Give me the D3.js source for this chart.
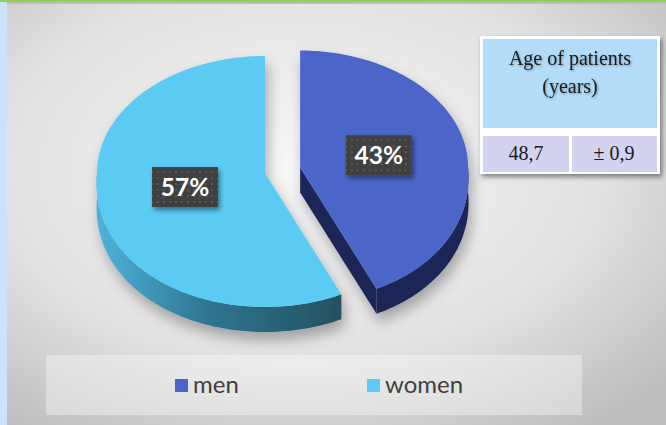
<!DOCTYPE html>
<html>
<head>
<meta charset="utf-8">
<script src="https://cdn.jsdelivr.net/npm/d3@7"></script>
<style>
  html, body { margin: 0; padding: 0; background: #fff; }
  svg { display: block; }
</style>
</head>
<body>
<svg id="chart" width="666" height="425"></svg>
<script>
// chart values
const categories = ['men', 'women']
const shares = [43, 57]
const sliceLabels = ['43%', '57%']
const tableTitle = ['Age of patients', '(years)']
const tableValues = ['48,7', '± 0,9']

const topColors = { men: '#4b66c8', women: '#5bcbf4' }
const sideColors = { men: '#1f2856', women: 'url(#womenSide)' }

const W = 666
const H = 425
const svg = d3.select('#chart')
const defs = svg.append('defs')

// background
const bg = defs.append('radialGradient').attr('id', 'bg')
  .attr('cx', '45%').attr('cy', '40%').attr('r', '75%')
bg.append('stop').attr('offset', '0%').attr('stop-color', '#f8f8f8')
bg.append('stop').attr('offset', '60%').attr('stop-color', '#e2e2e2')
bg.append('stop').attr('offset', '100%').attr('stop-color', '#bdbdbd')

const side = defs.append('linearGradient').attr('id', 'womenSide')
  .attr('gradientUnits', 'userSpaceOnUse')
  .attr('x1', 97).attr('x2', 345).attr('y1', 0).attr('y2', 0)
side.append('stop').attr('offset', '0%').attr('stop-color', '#4db3da')
side.append('stop').attr('offset', '45%').attr('stop-color', '#2f7590')
side.append('stop').attr('offset', '100%').attr('stop-color', '#23505f')

const shadow = defs.append('filter').attr('id', 'pieShadow')
  .attr('x', '-20%').attr('y', '-20%').attr('width', '140%').attr('height', '150%')
shadow.append('feDropShadow').attr('dx', 3).attr('dy', 8)
  .attr('stdDeviation', 7).attr('flood-color', '#000').attr('flood-opacity', 0.3)

const boxShadow = defs.append('filter').attr('id', 'boxShadow')
  .attr('x', '-30%').attr('y', '-30%').attr('width', '160%').attr('height', '170%')
boxShadow.append('feDropShadow').attr('dx', 2).attr('dy', 3)
  .attr('stdDeviation', 2.5).attr('flood-color', '#000').attr('flood-opacity', 0.45)

const textShadow = defs.append('filter').attr('id', 'textShadow')
textShadow.append('feDropShadow').attr('dx', 1).attr('dy', 1)
  .attr('stdDeviation', 0.8).attr('flood-color', '#000').attr('flood-opacity', 0.35)

const dots = defs.append('pattern').attr('id', 'dots')
  .attr('patternUnits', 'userSpaceOnUse').attr('width', 6).attr('height', 6)
dots.append('rect').attr('width', 6).attr('height', 6).attr('fill', '#404040')
dots.append('rect').attr('x', 2).attr('y', 2).attr('width', 2).attr('height', 2).attr('fill', '#575757')

svg.append('rect').attr('width', W).attr('height', H).attr('fill', 'url(#bg)')
svg.append('rect').attr('width', W).attr('height', 4).attr('fill', '#bdbdbd')
svg.append('rect').attr('width', W).attr('height', 2).attr('fill', '#92d050')
svg.append('rect').attr('y', 2).attr('width', 7).attr('height', H - 2).attr('fill', '#c8e3fa')

// legend panel
svg.append('rect').attr('x', 46).attr('y', 355).attr('width', 536).attr('height', 60)
  .attr('fill', '#ffffff').attr('fill-opacity', 0.35)

// pie geometry
const center = [265, 173]
const rx = 168
const ryTop = 117
const ryBot = 134
const depth = 25
const explode = { men: 36, women: 0 }

const point = (c, a, k = 1, dz = 0) => {
  const cos = Math.cos(a)
  const widen = 1 + 0.075 * Math.max(0, -cos)
  return [
    c[0] + k * rx * widen * Math.sin(a),
    c[1] - k * (cos > 0 ? ryTop : ryBot) * cos + dz
  ]
}

const arcPoints = (c, a0, a1, dz = 0) => {
  const n = Math.max(2, Math.ceil(Math.abs(a1 - a0) / 0.02))
  return d3.range(n + 1).map(i => point(c, a0 + (a1 - a0) * i / n, 1, dz))
}

const line = d3.line()

const slices = d3.pie().sort(null).value(d => d.value)(
  categories.map((name, i) => ({ name, value: shares[i], label: sliceLabels[i] }))
)

slices.forEach(s => {
  const mid = (s.startAngle + s.endAngle) / 2
  const off = explode[s.data.name]
  s.center = [
    center[0] + off * Math.sin(mid),
    center[1] - off * Math.cos(mid) * ryTop / rx
  ]
})

const pie = svg.append('g').attr('filter', 'url(#pieShadow)')

// draw women first, men (exploded) on top
slices.slice().reverse().forEach(s => {
  const g = pie.append('g').attr('class', s.data.name)
  const c = s.center
  const a0 = s.startAngle
  const a1 = s.endAngle

  // outer wall, front half only
  const f0 = Math.max(a0, Math.PI / 2)
  const f1 = Math.min(a1, Math.PI * 1.5)
  if (f1 > f0) {
    const pts = arcPoints(c, f0, f1).concat(arcPoints(c, f1, f0, depth))
    g.append('path').attr('d', line(pts) + 'Z').attr('fill', sideColors[s.data.name])
  }

  // radial face at end angle
  if (Math.sin(a1) > 0.001) {
    const p = point(c, a1)
    const pts = [c, p, [p[0], p[1] + depth], [c[0], c[1] + depth]]
    g.append('path').attr('d', line(pts) + 'Z').attr('fill', sideColors[s.data.name])
  }
  // radial face at start angle
  if (Math.sin(a0) < -0.001) {
    const p = point(c, a0)
    const pts = [c, p, [p[0], p[1] + depth], [c[0], c[1] + depth]]
    g.append('path').attr('d', line(pts) + 'Z').attr('fill', sideColors[s.data.name])
  }

  // top face
  const top = [c].concat(arcPoints(c, a0, a1))
  g.append('path').attr('d', line(top) + 'Z').attr('fill', topColors[s.data.name])
})

// data labels
const labelW = 66
const labelH = 40
slices.forEach(s => {
  const mid = (s.startAngle + s.endAngle) / 2
  const [x, y] = point(s.center, mid, 0.48)
  const g = svg.append('g').attr('transform', `translate(${x},${y})`)
  g.append('rect')
    .attr('x', -labelW / 2).attr('y', -labelH / 2)
    .attr('width', labelW).attr('height', labelH)
    .attr('fill', 'url(#dots)')
    .attr('filter', 'url(#boxShadow)')
  g.append('text')
    .attr('text-anchor', 'middle')
    .attr('y', 8.5)
    .attr('fill', '#ffffff')
    .attr('font-family', 'Lato, "Open Sans", sans-serif')
    .attr('font-weight', 700)
    .attr('font-size', 24.5)
    .text(s.data.label)
})

// legend
const legendX = d3.scaleOrdinal().domain(categories).range([175, 367])
const legend = svg.append('g')
categories.forEach(name => {
  legend.append('rect')
    .attr('x', legendX(name)).attr('y', 379)
    .attr('width', 13).attr('height', 13)
    .attr('fill', topColors[name])
  legend.append('text')
    .attr('x', legendX(name) + 18).attr('y', 393)
    .attr('fill', '#404040')
    .attr('font-family', 'Lato, "Open Sans", sans-serif')
    .attr('font-size', 24)
    .text(name)
})

// table
const table = svg.append('g')
table.append('rect').attr('x', 480).attr('y', 36).attr('width', 180).attr('height', 138)
  .attr('fill', '#ffffff').attr('filter', 'url(#boxShadow)')
table.append('rect').attr('x', 483).attr('y', 39).attr('width', 174).attr('height', 89)
  .attr('fill', '#b3dcf9')
table.append('rect').attr('x', 483).attr('y', 136).attr('width', 86).attr('height', 36)
  .attr('fill', '#d3d3ef')
table.append('rect').attr('x', 572).attr('y', 136).attr('width', 85).attr('height', 36)
  .attr('fill', '#d3d3ef')

const serif = '"Liberation Serif", "Times New Roman", serif'
tableTitle.forEach((t, i) => {
  table.append('text')
    .attr('x', 570).attr('y', 65 + i * 28)
    .attr('text-anchor', 'middle')
    .attr('font-family', serif).attr('font-size', 20)
    .attr('fill', '#1a1a1a').attr('filter', 'url(#textShadow)')
    .text(t)
})
const cellX = [526, 614]
tableValues.forEach((t, i) => {
  table.append('text')
    .attr('x', cellX[i]).attr('y', 160)
    .attr('text-anchor', 'middle')
    .attr('font-family', serif).attr('font-size', 20)
    .attr('fill', '#1a1a1a')
    .text(t)
})
</script>
</body>
</html>
